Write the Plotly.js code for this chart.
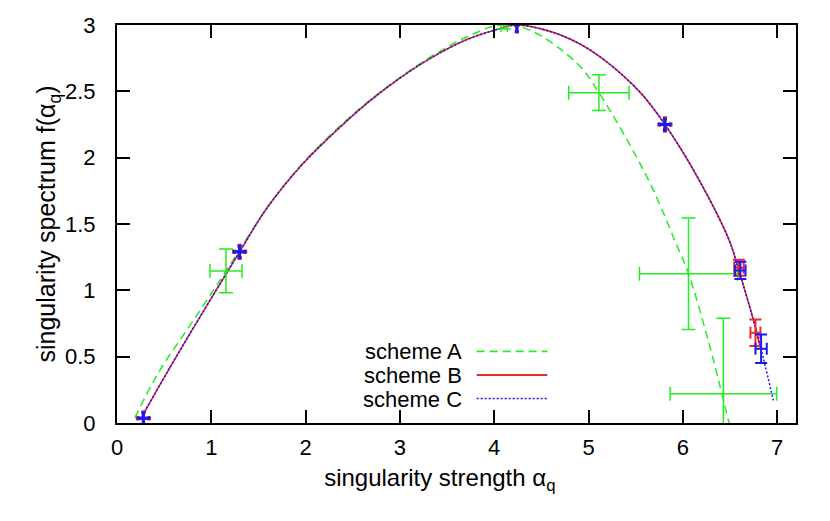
<!DOCTYPE html>
<html>
<head>
<meta charset="utf-8">
<script src="https://cdn.plot.ly/plotly-3.0.1.min.js"></script>
<style>html,body{margin:0;padding:0;background:#fff;}#chart{width:830px;height:521px;}</style>
</head>
<body>
<div id="chart"></div>
<script>
// ---- data ----
const schemeA_x = [0.19, 0.44, 0.845, 1.156, 1.59, 1.94, 2.29, 2.65, 3.0, 3.35, 3.71, 4.07, 4.38, 4.88, 5.11, 5.63, 5.93, 6.06, 6.27, 6.49];
const schemeA_y = [0.04, 0.38, 0.81, 1.146, 1.62, 1.935, 2.19, 2.415, 2.605, 2.77, 2.91, 3.0, 2.96, 2.71, 2.49, 1.84, 1.35, 1.125, 0.62, 0.0];

const schemeB_x = [0.25, 0.53, 0.88, 1.30, 1.59, 1.94, 2.29, 2.65, 3.0, 3.35, 3.71, 4.0, 4.24, 4.6, 4.9, 5.16, 5.55, 5.81, 6.15, 6.49, 6.59, 6.77, 6.82];
const schemeB_y = [0.03, 0.38, 0.80, 1.29, 1.62, 1.93, 2.18, 2.41, 2.60, 2.76, 2.89, 2.96, 3.0, 2.95, 2.86, 2.74, 2.49, 2.25, 1.86, 1.38, 1.16, 0.72, 0.57];

const schemeC_x = [0.25, 0.53, 0.88, 1.30, 1.59, 1.94, 2.29, 2.65, 3.0, 3.35, 3.71, 4.0, 4.24, 4.6, 4.9, 5.16, 5.55, 5.81, 6.15, 6.49, 6.59, 6.77, 6.85, 6.96];
const schemeC_y = [0.03, 0.38, 0.80, 1.29, 1.62, 1.93, 2.18, 2.41, 2.60, 2.76, 2.89, 2.96, 3.0, 2.95, 2.86, 2.74, 2.49, 2.25, 1.86, 1.38, 1.16, 0.72, 0.50, 0.17];

// points with (large) error bars
const ptsA_x    = [1.156, 4.105, 5.11, 6.06, 6.43];
const ptsA_y    = [1.146, 3.0, 2.49, 1.125, 0.22];
const ptsA_xerr = [0.17, 0.035, 0.32, 0.52, 0.565];
const ptsA_yerr = [0.165, 0.03, 0.135, 0.42, 0.57];

const ptsB_x    = [6.595, 6.77];
const ptsB_y    = [1.17, 0.68];
const ptsB_xerr = [0.05, 0.053];
const ptsB_yerr = [0.06, 0.10];

const ptsC_x    = [6.61, 6.83];
const ptsC_y    = [1.15, 0.56];
const ptsC_xerr = [0.055, 0.06];
const ptsC_yerr = [0.065, 0.107];

// points with tiny error bars (drawn as thick crosses)
const crossB_x    = [0.28, 1.30, 4.24, 5.81];
const crossB_y    = [0.035, 1.29, 3.0, 2.25];
const crossB_xerr = [0.065, 0.065, 0.01, 0.065];
const crossB_yerr = [0.05, 0.05, 0.05, 0.05];

const crossC_x    = [0.28, 1.30, 4.24, 5.81];
const crossC_y    = [0.035, 1.29, 3.0, 2.25];
const crossC_xerr = [0.055, 0.055, 0.01, 0.055];
const crossC_yerr = [0.042, 0.042, 0.05, 0.042];

const legendLabels = ['scheme A', 'scheme B', 'scheme C'];
const xTicks = [0, 1, 2, 3, 4, 5, 6, 7];
const yTicks = [0, 0.5, 1, 1.5, 2, 2.5, 3];
const yTickText = ['0', '0.5', '1', '1.5', '2', '2.5', '3'];

// ---- styles ----
const GREEN = '#22ee22', RED = '#f02828', BLUE = '#1a1aee';
const FONT = 'Liberation Sans, Arial, Helvetica, sans-serif';

function errPts(x, y, xe, ye, color, thick, cap) {
  return {
    type: 'scatter', mode: 'markers', x: x, y: y, showlegend: false, hoverinfo: 'x+y',
    marker: {size: 2, color: color},
    error_x: {type: 'data', array: xe, visible: true, color: color, thickness: thick, width: cap},
    error_y: {type: 'data', array: ye, visible: true, color: color, thickness: thick, width: cap}
  };
}

const traces = [
  {type: 'scatter', mode: 'lines', x: schemeA_x, y: schemeA_y, name: legendLabels[0], showlegend: false,
   line: {color: GREEN, width: 1.5, dash: '8px,5px', shape: 'spline', smoothing: 1}},
  {type: 'scatter', mode: 'lines', x: schemeB_x, y: schemeB_y, name: legendLabels[1], showlegend: false,
   line: {color: RED, width: 1.6, shape: 'spline', smoothing: 1}},
  {type: 'scatter', mode: 'lines', x: schemeC_x, y: schemeC_y, name: legendLabels[2], showlegend: false,
   line: {color: BLUE, width: 1.5, dash: '2px,2px', shape: 'spline', smoothing: 1}},
  errPts(ptsA_x, ptsA_y, ptsA_xerr, ptsA_yerr, GREEN, 1.5, 7),
  errPts(ptsB_x, ptsB_y, ptsB_xerr, ptsB_yerr, RED, 2, 6),
  errPts(crossB_x, crossB_y, crossB_xerr, crossB_yerr, RED, 3, 2),
  errPts(ptsC_x, ptsC_y, ptsC_xerr, ptsC_yerr, BLUE, 2, 6),
  errPts(crossC_x, crossC_y, crossC_xerr, crossC_yerr, BLUE, 3, 2)
];

// legend drawn gnuplot-style: text right-aligned, sample to the right
const legRowsY = [0.1800, 0.1206, 0.0615];
const legColors = [GREEN, RED, BLUE];
const legDash = ['8px,5px', 'solid', '2px,2px'];
const annotations = legendLabels.map((t, i) => ({
  xref: 'paper', yref: 'paper', x: 0.5096, y: legRowsY[i], xanchor: 'right', yanchor: 'middle',
  text: t, showarrow: false, height: 20, borderpad: 0,
  font: {family: FONT, size: 22, color: '#000'}
}));
const shapes = legendLabels.map((t, i) => ({
  type: 'line', xref: 'paper', yref: 'paper', x0: 0.5297, x1: 0.6337, y0: legRowsY[i], y1: legRowsY[i],
  line: {color: legColors[i], width: i === 1 ? 1.8 : 1.6, dash: legDash[i]}
}));

const layout = {
  width: 830, height: 521,
  margin: {l: 117, r: 34, t: 25, b: 98},
  paper_bgcolor: '#fff', plot_bgcolor: '#fff',
  font: {family: FONT, size: 22, color: '#000'},
  showlegend: false,
  xaxis: {
    range: [0, 7.2], tickvals: xTicks, ticktext: xTicks.map(String),
    ticks: 'inside', ticklen: 13, tickwidth: 2, tickcolor: '#000',
    showline: true, linewidth: 2, linecolor: '#000', mirror: 'ticks',
    showgrid: false, zeroline: false, ticklabelstandoff: 4,
    tickfont: {family: FONT, size: 22, color: '#000'},
    title: {text: 'singularity strength α<sub>q</sub>&nbsp;&nbsp;&nbsp;&nbsp;&nbsp;', font: {family: FONT, size: 24, color: '#000'}, standoff: 10}
  },
  yaxis: {
    range: [0, 3], tickvals: yTicks, ticktext: yTickText,
    ticks: 'inside', ticklen: 13, tickwidth: 2, tickcolor: '#000',
    showline: true, linewidth: 2, linecolor: '#000', mirror: 'ticks',
    showgrid: false, zeroline: false, ticklabelstandoff: 15,
    tickfont: {family: FONT, size: 22, color: '#000'},
    title: {text: 'singularity spectrum f(α<sub>q</sub>)', font: {family: FONT, size: 25, color: '#000'}, standoff: 2}
  },
  annotations: annotations,
  shapes: shapes
};

Plotly.newPlot('chart', traces, layout, {displayModeBar: false, staticPlot: true});
</script>
</body>
</html>
